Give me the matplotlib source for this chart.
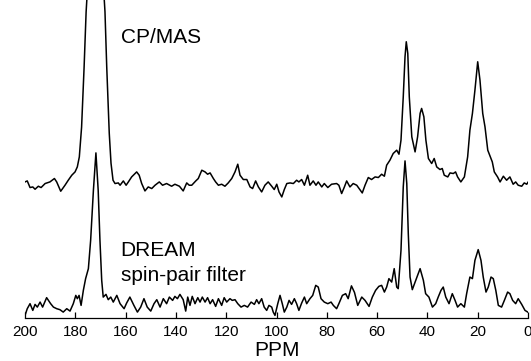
import matplotlib
matplotlib.use("Agg")
import matplotlib.pyplot as plt

# chemical shift axis (ppm) and intensities, relative to each baseline
cpmas_ppm = [200.0, 199.1, 198.0, 196.9, 196.0, 194.7, 193.6, 192.0, 190.1, 188.3,
             187.4, 185.8, 184.1, 182.8, 181.4, 180.1, 179.2, 178.4, 177.5, 176.5,
             175.7, 172.0, 168.2, 167.5, 166.5, 165.8, 165.0, 164.2, 162.9, 162.2,
             160.9, 159.8, 158.9, 157.6, 155.6, 154.6, 153.6, 152.3, 151.0, 149.6,
             148.3, 146.6, 145.3, 143.7, 141.7, 140.4, 138.6, 137.1, 135.7, 134.7,
             133.7, 132.1, 131.1, 129.7, 128.4, 127.4, 126.4, 125.1, 124.2, 123.1,
             121.8, 120.5, 119.2, 117.8, 116.5, 115.4, 114.5, 113.2, 111.8, 110.5,
             109.5, 108.3, 107.2, 105.9, 104.6, 103.3, 101.9, 100.9, 99.9, 99.0,
             97.9, 96.9, 95.9, 94.6, 93.3, 92.0, 91.1, 90.0, 88.9, 87.6,
             86.7, 85.4, 84.3, 83.4, 82.0, 81.0, 79.6, 78.1, 76.1, 75.2,
             74.1, 73.0, 72.1, 70.8, 69.5, 68.1, 65.9, 64.8, 63.5, 62.2,
             60.8, 59.5, 58.2, 57.1, 56.2, 54.9, 53.6, 52.2, 51.3, 50.5,
             49.6, 48.9, 48.4, 47.8, 47.2, 46.2, 44.9, 43.9, 42.9, 42.3,
             41.4, 40.6, 39.6, 38.3, 37.3, 36.3, 35.0, 34.1, 33.3, 31.9,
             31.0, 29.7, 28.8, 28.0, 26.7, 25.3, 24.0, 23.1, 22.1, 21.1,
             20.0, 19.1, 18.0, 17.1, 16.0, 15.1, 14.2, 13.4, 12.1, 11.1,
             9.8, 8.5, 7.2, 5.9, 4.9, 3.9, 2.5, 1.5, 0.5, 0.0]
cpmas_int = [1.3, 2.3, -4.3, -3.7, -6.0, -3.0, -4.3, -0.3, 1.3, 4.7,
             1.3, -8.0, -2.0, 3.0, 8.0, 11.3, 16.3, 26.3, 56, 116,
             171, 330, 171.3, 116, 50, 20, 3, -0.3, 0.3, -2,
             2.3, -2, 1.3, 6.3, 11.3, 8, -0.3, -7.7, -3.7, -5.3,
             -2, 1.3, -2, -0.3, -3, -1, -3, -7.7, 0.3, -2,
             -2, 2.3, 4.7, 13, 11.3, 9, 10.3, 4.7, 1.3, -2,
             -1, -3, 0.3, 4.7, 11.3, 19, 8, 3.7, 3.7, -3.7,
             -5.3, 2.3, -3.7, -8.7, -2, 1.3, -3, -6.3, -1, -8.7,
             -13.7, -6.3, -0.3, 0.3, -0.3, 3, 1.3, 3.7, -2, 8,
             -2, 2.3, -2, 1.3, -3.7, -0.3, -4.3, -1, -0.3, -2,
             -10.3, -3.7, 2.3, -3.7, -0.3, -2, -9.7, -2, 5.7, 3.7,
             6.3, 5.7, 9, 7, 18, 23, 29.7, 33, 29, 43,
             86.3, 126.3, 141.3, 129.7, 86.3, 46.3, 31.3, 46.3, 69.7, 74.7,
             66.3, 43, 24.7, 19.7, 24.7, 16.3, 13.7, 14.7, 8, 6.3,
             10.3, 9.7, 11.3, 6.3, 1.3, 6.3, 26.3, 53, 69.7, 93,
             121.3, 103, 69.7, 56.3, 33, 27, 21.3, 11.3, 6.3, 1.3,
             7, 3, 6.3, -1, 1.3, -2, -3, 0.3, -1, 1]

dream_ppm = [200.0, 199.1, 198.0, 196.9, 196.0, 195.1, 194.0, 193.0, 191.4, 189.8,
             188.7, 187.4, 186.1, 184.8, 183.4, 182.1, 180.8, 179.8, 179.2, 178.5,
             177.7, 176.8, 175.9, 174.8, 173.9, 172.8, 171.8, 170.9, 170.2, 169.5,
             168.9, 167.8, 166.9, 165.9, 164.9, 163.5, 162.2, 160.6, 159.6, 158.3,
             156.7, 155.3, 154.0, 152.7, 151.4, 150.0, 148.7, 147.6, 146.3, 145.0,
             143.7, 142.6, 141.3, 140.4, 139.4, 138.4, 137.1, 136.1, 135.3, 134.4,
             133.5, 132.4, 131.3, 130.4, 129.5, 128.4, 127.4, 126.4, 125.4, 124.2,
             123.1, 121.8, 120.8, 119.8, 118.5, 117.6, 116.5, 115.4, 114.1, 112.8,
             111.5, 110.1, 108.8, 107.9, 107.0, 105.9, 104.9, 103.9, 103.0, 101.9,
             101.3, 100.6, 99.5, 98.6, 97.7, 96.9, 95.9, 95.0, 94.0, 92.9,
             92.0, 91.1, 90.0, 88.9, 88.0, 86.7, 85.6, 84.4, 83.4, 82.3,
             81.0, 79.6, 78.3, 77.4, 76.1, 75.2, 73.8, 72.5, 71.5, 70.2,
             69.0, 67.7, 66.1, 64.8, 63.2, 61.9, 60.6, 59.3, 58.2, 57.1,
             56.2, 55.3, 54.2, 53.2, 52.2, 51.6, 50.5, 49.6, 48.9, 48.2,
             47.6, 46.9, 46.0, 44.9, 43.9, 42.9, 41.6, 40.7, 39.4, 38.0,
             36.7, 35.7, 34.6, 33.7, 32.7, 31.4, 30.1, 29.0, 28.0, 26.7,
             25.3, 24.4, 23.1, 22.1, 21.1, 19.8, 18.7, 17.8, 16.7, 15.8,
             14.7, 13.8, 12.8, 11.8, 10.5, 9.4, 8.1, 7.2, 6.1, 4.9,
             3.9, 2.5, 1.2, 0.1]
dream_int = [-13, -6.3, -1.3, -8, -2, -4.7, 0.3, -4.7, 4.7, -1.3,
             -4.7, -6.3, -7.3, -9.7, -6.3, -8.7, -1.3, 7, 3.7, 7,
             -3, 12, 23.7, 33.7, 62, 112, 149.3, 112, 62, 22,
             5.3, 8, 2.7, 5.3, 0.3, 7, -1.3, -6.3, -0.7, 5.3,
             -3, -9.7, -4.7, 3.7, -4.7, -8.7, -1.3, 2.7, -4.7, 3.7,
             -1.3, 5.3, 2, 6, 3.7, 8, 2.7, -8.7, 5.3, -3,
             6, -1.3, 4.7, 0.3, 5.3, 0.3, 4.7, -1.3, 2.7, -4,
             3.7, -3, 4.7, 0.3, 3.7, 2, 2.7, -1.3, -4.7, -3,
             -4.7, 0.3, -2, 2.7, -1.3, 3.7, -4.7, -8, -3, -4.7,
             -9.7, -13, -1.3, 7, -1.3, -9.7, -4.7, 2, -2, 3.7,
             -1.3, -8, -0.7, 5.3, -1.3, 3.7, 7, 17, 15.3, 3.7,
             0.3, -1.3, 0.3, -3, -6.3, -1.3, 7, 8.7, 3.7, 16.5,
             10, -3, 5.3, 2, -4, 5.3, 12, 16, 17, 10.3,
             15.3, 23.7, 20.3, 33.7, 15.3, 13.7, 52, 115.3, 141.3, 118.7,
             68.7, 25.3, 12.7, 20.3, 27, 33.7, 22, 8.7, 5.3, -4.7,
             -1.3, 5.3, 12, 15.3, 5.3, -1.3, 8.7, 2, -4.7, -1.3,
             -4.7, 8.7, 25.3, 23.7, 42, 52.7, 42, 25.3, 10.3, 15.3,
             25.3, 23.7, 12, -3, -4.7, 2, 10.3, 8.7, 2, -1.3,
             3.7, -2, -8, -9.7]

cpmas_offset = 135
dream_offset = 16

ppm_ticks = [200, 180, 160, 140, 120, 100, 80, 60, 40, 20, 0]

fig = plt.figure(figsize=(5.31, 3.61), dpi=100)
ax = fig.add_axes([25 / 531, 0.118, 503 / 531, 0.882])

ax.plot(cpmas_ppm, [v + cpmas_offset for v in cpmas_int], color="black", lw=1.1)
ax.plot(dream_ppm, [v + dream_offset for v in dream_int], color="black", lw=1.1)

ax.set_xlim(200, 0)
ax.set_ylim(0, 318)

# only the ppm axis is shown
for side in ["left", "right", "top"]:
    ax.spines[side].set_visible(False)
ax.spines["bottom"].set_linewidth(0.9)
ax.set_yticks([])
ax.set_xticks(ppm_ticks)
ax.tick_params(axis="x", direction="in", length=4, width=0.9, pad=5, labelsize=11)
for lab in ax.get_xticklabels():
    lab.set_family("Liberation Sans")

ax.set_xlabel("PPM", fontsize=15, family="Liberation Sans", labelpad=1.5)

ax.text(162, 281, "CP/MAS", fontsize=15, family="Liberation Sans", va="center", ha="left")
ax.text(162, 68, "DREAM", fontsize=15, family="Liberation Sans", va="center", ha="left")
ax.text(162, 43, "spin-pair filter", fontsize=15, family="Liberation Sans", va="center", ha="left")

fig.savefig("out.png", dpi=100)
